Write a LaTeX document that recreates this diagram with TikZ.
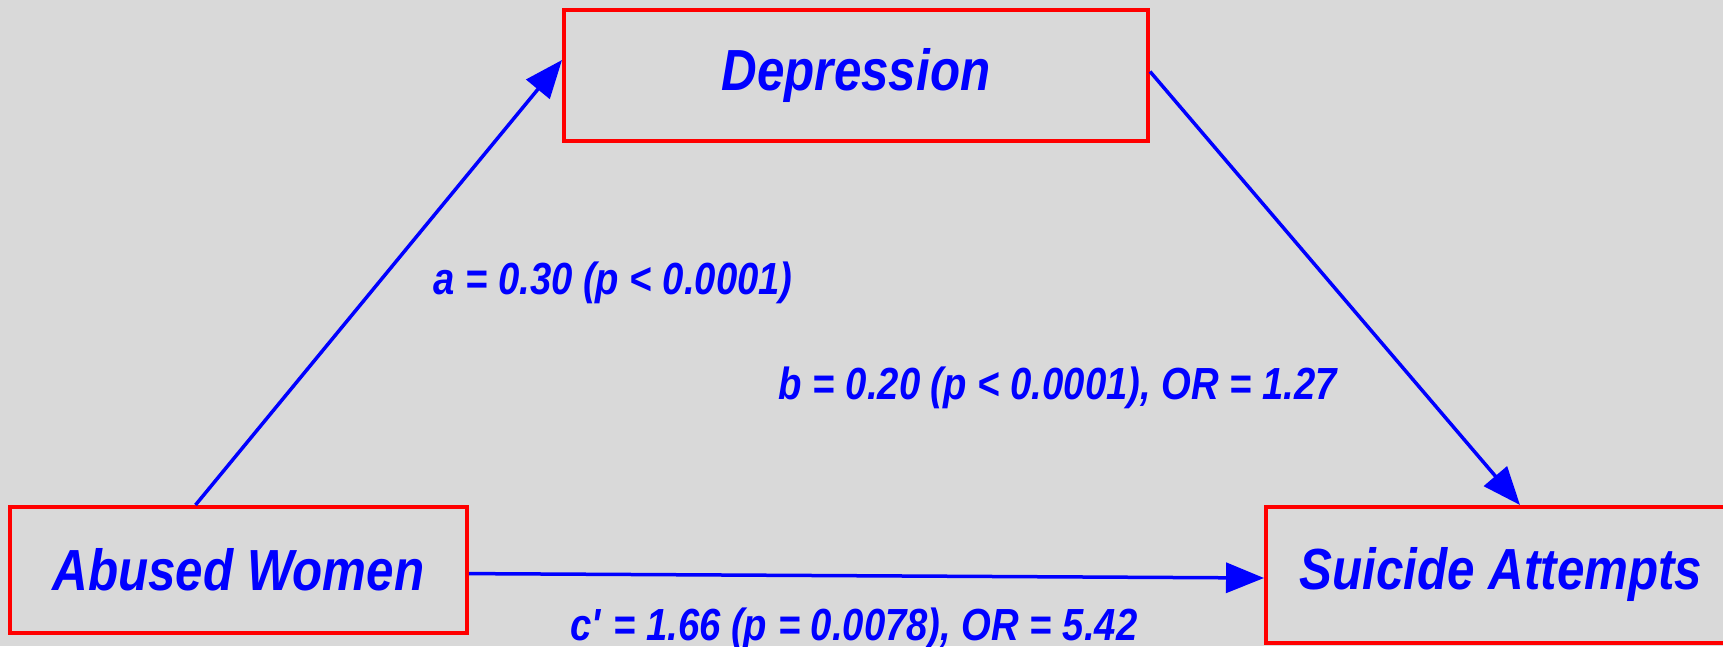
\documentclass[tikz,border=0pt]{standalone}
\usepackage{fontspec}
\setmainfont{Liberation Sans}[FakeStretch=0.85]
\usepackage{xcolor}
\usepackage{tikz}
\usetikzlibrary{arrows.meta, positioning, calc}

\definecolor{bggray}{HTML}{D9D9D9}

\begin{document}
\begin{tikzpicture}[x=1pt,y=1pt,
  box/.style={draw=red,line width=4pt,inner sep=0pt,text=blue,
    font=\fontsize{58}{60}\selectfont\bfseries\itshape},
  lbl/.style={text=blue,inner sep=0pt,anchor=base,
    font=\fontsize{45}{47}\selectfont\bfseries\itshape},
  link/.style={blue,line width=3.5pt,-{Triangle[length=38pt,width=30pt]}}]
  % Background and page size
  \fill[bggray] (0,0) rectangle (1723,646);
  \useasboundingbox (0,0) rectangle (1723,646);

  % Variables of the mediation model
  \node[box,minimum width=584pt,minimum height=131pt] (depr) at (856,570.5) {Depression};
  \node[box,minimum width=457pt,minimum height=126pt] (abused) at (238.5,76) {Abused Women};
  \node[box,minimum width=470pt,minimum height=136pt] (suicide) at (1501,71) {Suicide Attempts};

  % Paths
  \draw[link] ([xshift=-43pt]abused.north) -- ([yshift=15.5pt]depr.west);
  \draw[link] ([yshift=4pt]depr.east) -- ([xshift=19pt]suicide.north);
  \draw[link] ([yshift=-3.6pt]abused.east) -- ([yshift=-3pt]suicide.west);

  % Path coefficients
  \node[lbl] (lbla) at (613,351.5) {a = 0.30 (p < 0.0001)};
  \node[lbl] (lblb) at (1058,247) {b = 0.20 (p < 0.0001), OR = 1.27};
  \node[lbl] (lblc) at (854,6) {c\textquotesingle{} = 1.66 (p = 0.0078), OR = 5.42};
\end{tikzpicture}
\end{document}
